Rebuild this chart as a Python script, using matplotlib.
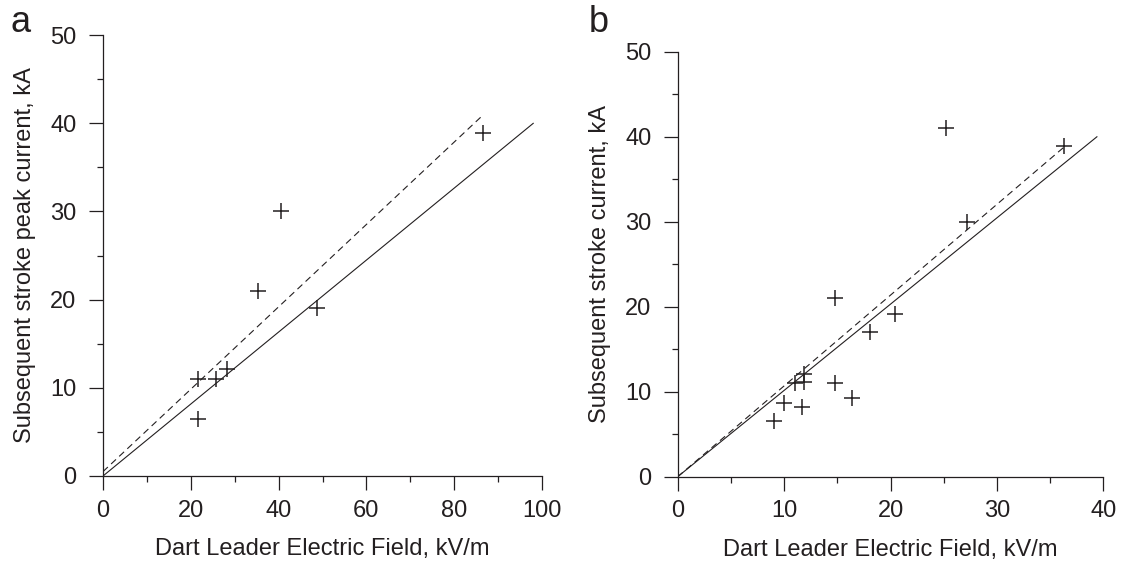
import numpy as np
import matplotlib
matplotlib.use("Agg")
import matplotlib.pyplot as plt
from matplotlib.ticker import MultipleLocator

plt.rcParams['font.family'] = ['Liberation Sans', 'DejaVu Sans']

# panel a data
field_a = [86.6, 40.6, 35.4, 48.8, 21.7, 25.8, 28.3, 21.7]
current_a = [38.9, 30.0, 21.0, 19.0, 11.0, 11.0, 12.1, 6.5]
# fit lines panel a: (slope, intercept, x end)
solid_a = (0.408, 0.0, 98.0)
dashed_a = (0.467, 0.5, 86.6)

# panel b data
field_b = [25.2, 36.3, 27.2, 14.8, 20.4, 18.1, 14.8, 16.4, 11.7, 9.97, 9.06, 11.0, 11.9, 11.9]
current_b = [41.0, 38.9, 30.0, 21.0, 19.1, 17.0, 11.0, 9.2, 8.2, 8.7, 6.5, 11.0, 11.1, 12.1]
solid_b = (1.015, 0.0, 39.4)
dashed_b = (1.068, 0.0, 36.3)

ink = '#231f20'

fig = plt.figure(figsize=(11.21, 5.62), dpi=100)
ax_a = fig.add_axes([103 / 1121, 1 - 476 / 562, 439 / 1121, 441 / 562])
ax_b = fig.add_axes([677.7 / 1121, 1 - 476.7 / 562, 425.6 / 1121, 425 / 562])


def draw(ax, xs, ys, solid, dashed, xmax, xmajor, ylabel):
    for fit, ls in [(solid, '-'), (dashed, (0, (6, 4)))]:
        x = np.array([0.0, fit[2]])
        ax.plot(x, fit[0] * x + fit[1], color=ink, lw=0.8, ls=ls)
    ax.plot(xs, ys, ls='none', marker='+', ms=11, mew=1.1, color=ink, clip_on=False)
    ax.set_xlim(0, xmax)
    ax.set_ylim(0, 50)
    ax.xaxis.set_major_locator(MultipleLocator(xmajor))
    ax.xaxis.set_minor_locator(MultipleLocator(xmajor / 2))
    ax.yaxis.set_major_locator(MultipleLocator(10))
    ax.yaxis.set_minor_locator(MultipleLocator(5))
    for s in ['top', 'right']:
        ax.spines[s].set_visible(False)
    for s in ['left', 'bottom']:
        ax.spines[s].set_linewidth(0.9)
        ax.spines[s].set_color(ink)
    ax.tick_params(which='major', length=10, width=0.9, labelsize=17, colors=ink)
    ax.tick_params(axis='x', which='major', pad=7)
    ax.tick_params(axis='y', which='major', pad=9)
    ax.tick_params(which='minor', length=4.5, width=0.9, colors=ink)
    ax.set_xlabel('Dart Leader Electric Field, kV/m', fontsize=17, color=ink, labelpad=12)
    ax.set_ylabel(ylabel, fontsize=17, color=ink, labelpad=10)


draw(ax_a, field_a, current_a, solid_a, dashed_a, 100, 20, 'Subsequent stroke peak current, kA')
draw(ax_b, field_b, current_b, solid_b, dashed_b, 40, 10, 'Subsequent stroke current, kA')

fig.text(10 / 1121, 1 - 32 / 562, 'a', fontsize=26, color=ink)
fig.text(589 / 1121, 1 - 32 / 562, 'b', fontsize=26, color=ink)

fig.savefig('out.png', dpi=100)
